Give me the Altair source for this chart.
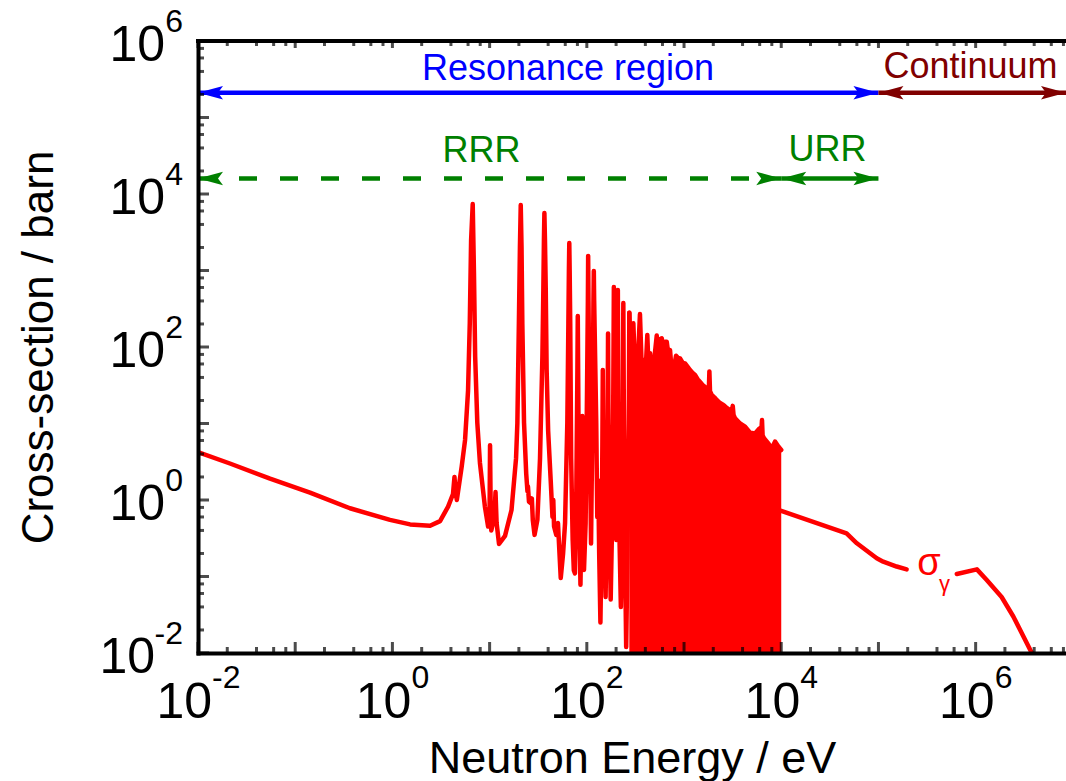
import altair as alt
import pandas as pd

FONT = "Liberation Sans"
RED = "#ff0000"

X_MIN, X_MAX = 1e-2, 8.5e6
Y_MIN, Y_MAX = 1e-2, 1e6

# ---- U-238 radiative capture cross-section (barn) vs neutron energy (eV)
# 1/v region and resolved resonances up to ~270 eV
E_line = [0.01, 0.0213, 0.0551, 0.142, 0.366, 0.944, 1.52, 2.44, 3.09, 3.74,
          4.20, 4.35, 4.45, 4.60, 5.16, 5.59, 6.00, 6.25, 6.45, 6.70,
          6.90, 7.10, 7.47, 7.95, 8.94, 9.65, 10.0, 10.1, 10.25, 10.4,
          11.2, 11.5, 11.8, 12.5, 14.4, 16.8, 18.7, 19.3, 20.0, 20.5,
          20.9, 21.3, 21.7, 22.6, 23.8, 24.5, 24.8, 25.4, 26.8, 27.2,
          27.8, 29.0, 31.0, 33.0, 34.9, 35.7, 36.2, 36.6, 37.1, 37.8,
          38.6, 40.0, 42.5, 44.3, 45.2, 46.0, 48.5, 50.5, 51.5, 53.9,
          57.0, 59.7, 63.0, 64.6, 65.4, 66.0, 66.6, 67.5, 69.0, 71.5,
          73.5, 75.5, 78.0, 80.0, 80.7, 81.4, 83.0, 86.0, 89.2, 89.9,
          90.6, 93.5, 97.2, 100.5, 102.5, 103.2, 104.0, 106.9, 110.5, 115.0,
          117.0, 118.0, 119.0, 125.0, 128.0, 131.0, 134.0, 138.0, 142.0, 144.5,
          146.0, 147.5, 152.0, 156.0, 160.0, 163.5, 165.3, 167.0, 171.0, 176.0,
          182.0, 187.0, 189.7, 192.0, 197.0, 201.0, 205.5, 208.5, 211.0, 217.0,
          224.0, 231.0, 235.0, 237.4, 240.0, 247.0, 254.0, 262.0, 270.0, 273.7]
S_line = [4.24, 3.0, 1.9, 1.25, 0.78, 0.55, 0.48, 0.46, 0.53, 0.82,
          1.2, 2.0, 1.3, 1.0, 2.73, 6.1, 27, 205, 2500, 7400,
          940, 75, 10.2, 3.05, 0.82, 0.45, 0.8, 5.2, 0.8, 0.40,
          0.6, 1.27, 0.5, 0.266, 0.34, 0.74, 3.5, 10.2, 205, 2000,
          7180, 2000, 205, 10.2, 2.2, 1.3, 1.5, 0.95, 0.9, 1.05,
          0.55, 0.35, 0.55, 3.5, 75, 556, 2500, 5650, 2500, 556,
          50, 8, 1.8, 0.6, 1.0, 0.45, 0.35, 0.5, 0.3, 0.0955,
          0.2, 0.5, 10.2, 205, 1000, 2290, 1000, 205, 3.5, 0.3,
          0.12, 0.11, 1.35, 50, 254, 50, 1.35, 0.078, 1.2, 12.5,
          1.2, 0.122, 0.5, 27, 400, 1550, 400, 10.2, 0.27, 27,
          400, 985, 400, 10.2, 0.6, 1.8, 0.2, 0.025, 0.3, 5,
          50, 5, 0.3, 0.054, 0.5, 10, 150, 10, 0.5, 0.05,
          0.5, 20, 610, 20, 0.6, 0.3, 20, 556, 20, 0.3,
          0.04, 0.3, 20, 376, 20, 0.2, 0.012, 0.2, 10, 280]

# dense resonance forest: upper envelope up to the end of the RRR
E_forest = [273.7, 285, 301, 315, 326, 340, 352, 366, 381, 400,
            419, 432, 447, 465, 484, 500, 524, 545, 560, 590,
            620, 640, 664, 690, 718, 745, 777, 800, 828, 870,
            910, 970, 1024, 1090, 1153, 1220, 1298, 1380, 1462, 1550,
            1645, 1750, 1800, 1823, 1850, 1928, 2050, 2168, 2350, 2541,
            2750, 2974, 3100, 3170, 3230, 3350, 3770, 4245, 4778, 5379,
            5960, 6250, 6340, 6430, 6650, 7370, 7980, 8630, 9340, 10000]
S_forest = [280, 60, 204, 40, 21, 100, 270, 60, 68, 40,
            144, 50, 83, 40, 50, 80, 141, 70, 125, 130,
            90, 117, 117, 80, 91, 50, 33, 60, 77, 72,
            71, 62, 61, 55, 50, 46, 43, 38, 35, 32,
            30, 27, 27.5, 48, 26.5, 23.6, 22, 20.3, 18.5, 17.5,
            16, 15, 14.5, 17, 13, 11.7, 10, 9.1, 7.6, 7.4,
            8.6, 8.3, 11.1, 7, 6.4, 5.5, 4.7, 5.8, 5.0, 4.5]

# smooth continuum (split around the curve label)
E_cont_lo = [1.0e4, 4.7e4, 6.0e4, 9.6e4, 1.12e5, 1.54e5, 1.95e5]
S_cont_lo = [0.72, 0.366, 0.272, 0.173, 0.156, 0.135, 0.124]
E_cont_hi = [6.4e5, 1.03e6, 1.30e6, 1.85e6, 2.44e6, 3.78e6, 4.5e6]
S_cont_hi = [0.108, 0.124, 0.090, 0.054, 0.030, 0.010, 0.006]

# energy regions marked with arrows
range_names = ["Resonance region", "Continuum", "RRR", "URR"]
range_lo = [1e-2, 1e5, 1e-2, 1e4]
range_hi = [1e5, X_MAX, 1e4, 1e5]
range_y = [2.1e5, 2.1e5, 1.6e4, 1.6e4]
range_color = ["#0000ff", "#800000", "#008000", "#008000"]
range_dashed = [False, False, True, False]
label_x = [64, 8.85e5, 8.26, 3.0e4]
label_y = [3.1e5, 3.3e5, 2.6e4, 2.7e4]

# axis decades
x_label_exp = [-2, 0, 2, 4, 6]
y_label_exp = [-2, 0, 2, 4, 6]
x_decades = [-2, -1, 0, 1, 2, 3, 4, 5, 6]
y_decades = [-2, -1, 0, 1, 2, 3, 4, 5, 6]
minor_mult = [2, 4, 6, 8]

# ---------------------------------------------------------------- tables
df_line = pd.DataFrame({"E": E_line, "S": S_line})
df_forest = pd.DataFrame({"E": E_forest, "S": S_forest})
df_cont = pd.DataFrame({
    "E": E_cont_lo + E_cont_hi,
    "S": S_cont_lo + S_cont_hi,
    "seg": ["a"] * len(E_cont_lo) + ["b"] * len(E_cont_hi),
})
df_ranges = pd.DataFrame({
    "name": range_names, "lo": range_lo, "hi": range_hi, "y": range_y,
    "color": range_color, "dashed": range_dashed, "lx": label_x, "ly": label_y,
})
heads = []
for lo, hi, y, c in zip(range_lo, range_hi, range_y, range_color):
    heads.append({"E": lo, "y": y, "color": c, "dir": "left"})
    heads.append({"E": hi, "y": y, "color": c, "dir": "right"})
df_heads = pd.DataFrame(heads)


def ticks_table(decades, vmin, vmax):
    rows = []
    for d in decades:
        v = 10.0 ** d
        if vmin <= v <= vmax:
            rows.append({"v": v, "major": True})
        for m in minor_mult:
            w = m * v
            if vmin <= w <= vmax:
                rows.append({"v": w, "major": False})
    return pd.DataFrame(rows)


df_xt = ticks_table(x_decades, X_MIN, X_MAX)
df_yt = ticks_table(y_decades, Y_MIN, Y_MAX)
df_xl = pd.DataFrame({"v": [10.0 ** e for e in x_label_exp],
                      "sup": [str(e) for e in x_label_exp],
                      "neg": [e < 0 for e in x_label_exp]})
df_yl = pd.DataFrame({"v": [10.0 ** e for e in y_label_exp],
                      "sup": [str(e) for e in y_label_exp],
                      "neg": [e < 0 for e in y_label_exp]})

# ---------------------------------------------------------------- scales / axes
XS = alt.Scale(type="log", domain=[X_MIN, X_MAX], nice=False)
YS = alt.Scale(type="log", domain=[Y_MIN, Y_MAX], nice=False)

XAXIS = alt.Axis(title="Neutron Energy / eV", labels=False, ticks=False, grid=False,
                 domainColor="black", domainWidth=4, domainCap="square",
                 titleFont=FONT, titleFontSize=45, titleFontWeight="normal",
                 titleColor="black", titleY=119, titleBaseline="alphabetic", zindex=1)
YAXIS = alt.Axis(title="Cross-section / barn", labels=False, ticks=False, grid=False,
                 domainColor="black", domainWidth=4, domainCap="square",
                 titleFont=FONT, titleFontSize=44, titleFontWeight="normal",
                 titleColor="black", titleAngle=270, titleX=-146, titleY=306,
                 titleAlign="center", titleBaseline="alphabetic", zindex=1)


def X(field, **kw):
    return alt.X(field, type="quantitative", scale=XS, axis=XAXIS, **kw)


def Y(field, **kw):
    return alt.Y(field, type="quantitative", scale=YS, axis=YAXIS, **kw)


def XD(value):
    return alt.XDatum(value, type="quantitative", scale=XS, axis=XAXIS)


def YD(value):
    return alt.YDatum(value, type="quantitative", scale=YS, axis=YAXIS)


line_style = dict(color=RED, strokeWidth=4.5, strokeJoin="round", strokeCap="round", clip=True)

curve = alt.Chart(df_line).mark_line(**line_style).encode(x=X("E"), y=Y("S"))
forest_fill = alt.Chart(df_forest).mark_area(color=RED, opacity=1, clip=True).encode(
    x=X("E"), y=Y("S"), y2=alt.datum(Y_MIN)
)
forest_edge = alt.Chart(df_forest).mark_line(**line_style).encode(x=X("E"), y=Y("S"))
continuum = alt.Chart(df_cont).mark_line(**line_style).encode(
    x=X("E"), y=Y("S"), detail="seg:N"
)

# ---------------------------------------------------------------- region arrows
shafts = alt.Chart(df_ranges).transform_filter("!datum.dashed").mark_rule(strokeWidth=4.5).encode(
    x=X("lo"), x2="hi", y=Y("y"), color=alt.Color("color:N", scale=None)
)
shafts_dashed = alt.Chart(df_ranges).transform_filter("datum.dashed").mark_rule(
    strokeWidth=4.5, strokeDash=[18, 23]).encode(
    x=X("lo"), x2="hi", y=Y("y"), color=alt.Color("color:N", scale=None)
)
HEAD_R = "M0,0 L-1,-0.27 L-0.8,0 L-1,0.27 Z"
HEAD_L = "M0,0 L1,-0.27 L0.8,0 L1,0.27 Z"
heads_r = alt.Chart(df_heads).transform_filter("datum.dir == 'right'").mark_point(
    shape=HEAD_R, size=2500, filled=True, opacity=1, strokeWidth=0).encode(
    x=X("E"), y=Y("y"), color=alt.Color("color:N", scale=None)
)
heads_l = alt.Chart(df_heads).transform_filter("datum.dir == 'left'").mark_point(
    shape=HEAD_L, size=2500, filled=True, opacity=1, strokeWidth=0).encode(
    x=X("E"), y=Y("y"), color=alt.Color("color:N", scale=None)
)
region_text = alt.Chart(df_ranges).mark_text(
    font=FONT, fontSize=36, align="center", baseline="alphabetic").encode(
    x=X("lx"), y=Y("ly"), text="name:N", color=alt.Color("color:N", scale=None)
)

# curve label sigma_gamma
df_sig = pd.DataFrame({"E": [2.5e5], "S": [0.105], "t": ["σ"]})
df_gam = pd.DataFrame({"E": [4.2e5], "S": [0.0645], "t": ["γ"]})
sig = alt.Chart(df_sig).mark_text(font=FONT, fontSize=38, color=RED, align="left",
                                  baseline="alphabetic").encode(x=X("E"), y=Y("S"), text="t:N")
gam = alt.Chart(df_gam).mark_text(font=FONT, fontSize=22, color=RED, align="left",
                                  baseline="alphabetic").encode(x=X("E"), y=Y("S"), text="t:N")

# ---------------------------------------------------------------- frame and inward ticks
df_top = pd.DataFrame({"x0": [X_MIN], "x1": [X_MAX], "y": [Y_MAX]})
top_line = alt.Chart(df_top).mark_rule(color="black", strokeWidth=4, strokeCap="square").encode(
    x=X("x0"), x2="x1", y=Y("y")
)


def xticks(major, length, at, inward):
    sel = "datum.major" if major else "!datum.major"
    return alt.Chart(df_xt).transform_filter(sel).mark_tick(
        orient="vertical", color="black", size=length, thickness=3,
        yOffset=inward * length / 2).encode(x=X("v"), y=YD(at))


def yticks(major, length):
    sel = "datum.major" if major else "!datum.major"
    return alt.Chart(df_yt).transform_filter(sel).mark_tick(
        orient="horizontal", color="black", size=length, thickness=3,
        xOffset=length / 2).encode(y=Y("v"), x=XD(X_MIN))


tick_layers = [
    xticks(True, 11, Y_MIN, -1), xticks(False, 6, Y_MIN, -1),
    xticks(True, 7, Y_MAX, 1), xticks(False, 5, Y_MAX, 1),
    yticks(True, 11), yticks(False, 6),
]

# ---------------------------------------------------------------- tick labels 10^n
label_style = dict(font=FONT, color="black", baseline="alphabetic")


def xlabels(neg, shift):
    sel = "datum.neg" if neg else "!datum.neg"
    base = alt.Chart(df_xl).transform_filter(sel)
    ten = base.mark_text(fontSize=50, align="right", dx=shift, dy=65, **label_style).encode(
        x=X("v"), y=YD(Y_MIN), text=alt.value("10"))
    sup = base.mark_text(fontSize=32, align="left", dx=shift, dy=35, **label_style).encode(
        x=X("v"), y=YD(Y_MIN), text="sup:N")
    return [ten, sup]


def ylabels(neg, shift):
    sel = "datum.neg" if neg else "!datum.neg"
    base = alt.Chart(df_yl).transform_filter(sel)
    ten = base.mark_text(fontSize=50, align="right", dx=shift, dy=20, **label_style).encode(
        y=Y("v"), x=XD(X_MIN), text=alt.value("10"))
    sup = base.mark_text(fontSize=32, align="right", dx=-15, dy=-9, **label_style).encode(
        y=Y("v"), x=XD(X_MIN), text="sup:N")
    return [ten, sup]


label_layers = xlabels(True, 14) + xlabels(False, 19) + ylabels(True, -43) + ylabels(False, -33)

chart = alt.layer(
    forest_fill, forest_edge, curve, continuum,
    shafts, shafts_dashed, heads_r, heads_l, region_text, sig, gam,
    top_line, *tick_layers, *label_layers,
).properties(
    width=868, height=612,
    autosize=alt.AutoSizeParams(type="none"),
    padding={"left": 198, "top": 41, "right": 0, "bottom": 128},
    background="white",
).configure_view(stroke="transparent")

chart.save("out.html", embed_options={"renderer": "svg", "actions": False})
